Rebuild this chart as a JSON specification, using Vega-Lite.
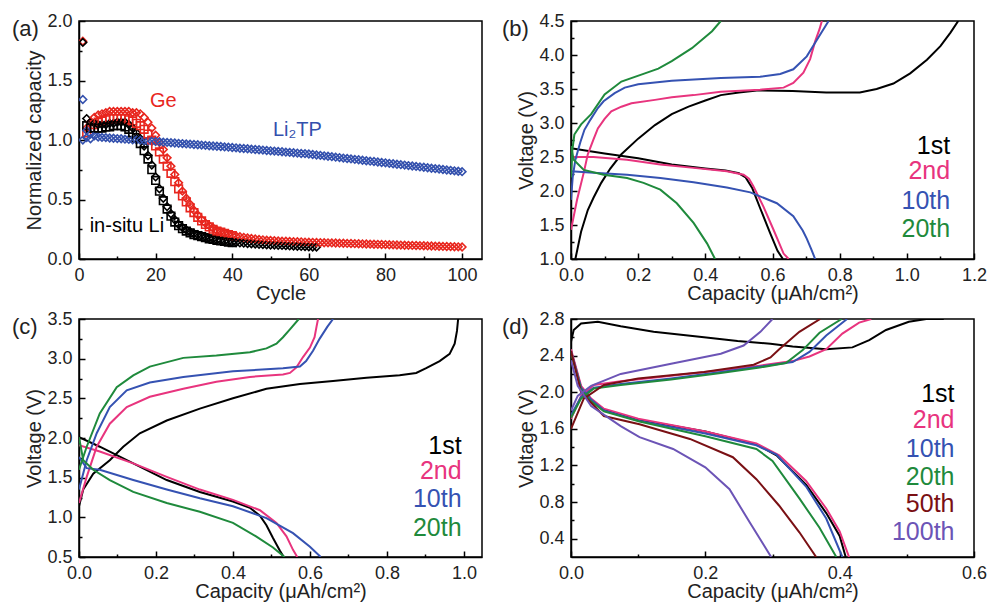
{
"$schema":"https://vega.github.io/schema/vega-lite/v6.json",
"autosize":{"type":"none"},
"padding":{"left":79,"top":21,"right":909,"bottom":587},
"background":"white",
"config":{
 "view":{"stroke":"#000","strokeWidth":1.5},
 "font":"Liberation Sans",
 "axis":{"domainColor":"#000","domainWidth":1.5,"tickColor":"#000","tickWidth":1.5,"tickSize":-6,"labelFont":"Liberation Sans","labelFontSize":18,"labelColor":"#222","titleFont":"Liberation Sans","titleFontSize":20,"titleFontWeight":"normal","titleColor":"#222","grid":false,"labelFlush":false,"labelOverlap":false},
 "axisX":{"titlePadding":-1,"labelPadding":13},
 "axisY":{"titlePadding":2,"labelPadding":13},
 "title":{"font":"Liberation Sans","fontSize":22,"fontWeight":"normal","color":"#222"},
 "text":{"font":"Liberation Sans"}
},
"columns":2,
"spacing":{"row":60,"column":89},
"bounds":"flush",
"resolve":{"scale":{"color":"independent","shape":"independent"}},
"datasets":{
"a":[
{"c":1,"g":1.83,"l":1.82,"t":1.34,"t2":1.0},
{"c":2,"g":1.10,"g2":1.06,"l":1.18,"l2":1.12,"t":1.08,"t2":1.02},
{"c":3,"g":1.15,"g2":1.10,"l":1.15,"l2":1.10,"t":1.05,"t2":1.01},
{"c":4,"g":1.19,"g2":1.13,"l":1.14,"l2":1.10,"t":1.035},
{"c":5,"g":1.21,"g2":1.15,"l":1.13,"l2":1.10,"t":1.025},
{"c":6,"g":1.22,"g2":1.16,"l":1.13,"l2":1.10,"t":1.022},
{"c":7,"g":1.23,"g2":1.17,"l":1.13,"l2":1.11,"t":1.02},
{"c":8,"g":1.24,"g2":1.18,"l":1.14,"l2":1.11,"t":1.017},
{"c":9,"g":1.24,"g2":1.18,"l":1.14,"l2":1.12,"t":1.015},
{"c":10,"g":1.24,"g2":1.18,"l":1.15,"l2":1.12,"t":1.012},
{"c":11,"g":1.24,"g2":1.18,"l":1.15,"l2":1.12,"t":1.01},
{"c":12,"g":1.24,"g2":1.18,"l":1.15,"l2":1.11,"t":1.007},
{"c":13,"g":1.24,"g2":1.17,"l":1.13,"l2":1.09,"t":1.005},
{"c":14,"g":1.23,"g2":1.16,"l":1.10,"l2":1.06,"t":1.002},
{"c":15,"g":1.23,"g2":1.14,"l":1.06,"l2":1.02,"t":1.0},
{"c":16,"g":1.22,"g2":1.12,"l":1.01,"l2":0.97,"t":0.997},
{"c":17,"g":1.19,"g2":1.09,"l":0.95,"l2":0.91,"t":0.995},
{"c":18,"g":1.15,"g2":1.05,"l":0.87,"l2":0.84,"t":0.992},
{"c":19,"g":1.10,"g2":1.00,"l":0.79,"l2":0.75,"t":0.99},
{"c":20,"g":1.04,"g2":0.95,"l":0.69,"l2":0.66,"t":0.987},
{"c":21,"g":0.98,"g2":0.90,"l":0.59,"l2":0.57,"t":0.985},
{"c":22,"g":0.92,"g2":0.84,"l":0.51,"l2":0.49,"t":0.982},
{"c":23,"g":0.85,"g2":0.78,"l":0.44,"l2":0.42,"t":0.98},
{"c":24,"g":0.78,"g2":0.72,"l":0.38,"l2":0.36,"t":0.977},
{"c":25,"g":0.71,"g2":0.65,"l":0.33,"l2":0.31,"t":0.975},
{"c":26,"g":0.64,"g2":0.59,"l":0.29,"l2":0.28,"t":0.972},
{"c":27,"g":0.57,"g2":0.53,"l":0.265,"l2":0.255,"t":0.97},
{"c":28,"g":0.51,"g2":0.48,"l":0.245,"l2":0.235,"t":0.967},
{"c":29,"g":0.46,"g2":0.43,"l":0.23,"l2":0.22,"t":0.965},
{"c":30,"g":0.41,"g2":0.39,"l":0.215,"l2":0.205,"t":0.962},
{"c":31,"g":0.37,"g2":0.35,"l":0.205,"l2":0.197,"t":0.96},
{"c":32,"g":0.33,"g2":0.32,"l":0.195,"l2":0.188,"t":0.957},
{"c":33,"g":0.30,"g2":0.29,"l":0.185,"l2":0.18,"t":0.955},
{"c":34,"g":0.28,"g2":0.27,"l":0.175,"l2":0.17,"t":0.952},
{"c":35,"g":0.26,"g2":0.25,"l":0.17,"l2":0.165,"t":0.95},
{"c":36,"g":0.24,"g2":0.235,"l":0.16,"l2":0.157,"t":0.947},
{"c":37,"g":0.23,"g2":0.225,"l":0.155,"l2":0.152,"t":0.945},
{"c":38,"g":0.22,"g2":0.215,"l":0.15,"l2":0.147,"t":0.942},
{"c":39,"g":0.21,"g2":0.205,"l":0.145,"l2":0.142,"t":0.94},
{"c":40,"g":0.20,"g2":0.196,"l":0.14,"l2":0.138,"t":0.937},
{"c":41,"g":0.193,"l":0.138,"t":0.934},
{"c":42,"g":0.187,"l":0.135,"t":0.931},
{"c":43,"g":0.182,"l":0.133,"t":0.929},
{"c":44,"g":0.177,"l":0.13,"t":0.926},
{"c":45,"g":0.172,"l":0.128,"t":0.923},
{"c":46,"g":0.168,"l":0.126,"t":0.92},
{"c":47,"g":0.164,"l":0.124,"t":0.918},
{"c":48,"g":0.161,"l":0.122,"t":0.915},
{"c":49,"g":0.158,"l":0.12,"t":0.912},
{"c":50,"g":0.156,"l":0.118,"t":0.909},
{"c":51,"g":0.154,"l":0.117,"t":0.907},
{"c":52,"g":0.152,"l":0.115,"t":0.904},
{"c":53,"g":0.15,"l":0.114,"t":0.901},
{"c":54,"g":0.149,"l":0.112,"t":0.898},
{"c":55,"g":0.148,"l":0.11,"t":0.896},
{"c":56,"g":0.146,"l":0.109,"t":0.893},
{"c":57,"g":0.145,"l":0.107,"t":0.89},
{"c":58,"g":0.144,"l":0.106,"t":0.887},
{"c":59,"g":0.142,"l":0.104,"t":0.885},
{"c":60,"g":0.141,"l":0.103,"t":0.882},
{"c":61,"g":0.14,"l":0.101,"t":0.878},
{"c":62,"g":0.139,"l":0.1,"t":0.874},
{"c":63,"g":0.138,"t":0.871},
{"c":64,"g":0.137,"t":0.867},
{"c":65,"g":0.136,"t":0.863},
{"c":66,"g":0.135,"t":0.86},
{"c":67,"g":0.134,"t":0.856},
{"c":68,"g":0.133,"t":0.852},
{"c":69,"g":0.132,"t":0.848},
{"c":70,"g":0.131,"t":0.845},
{"c":71,"g":0.13,"t":0.841},
{"c":72,"g":0.129,"t":0.837},
{"c":73,"g":0.128,"t":0.834},
{"c":74,"g":0.127,"t":0.83},
{"c":75,"g":0.126,"t":0.826},
{"c":76,"g":0.125,"t":0.822},
{"c":77,"g":0.124,"t":0.819},
{"c":78,"g":0.123,"t":0.815},
{"c":79,"g":0.122,"t":0.811},
{"c":80,"g":0.121,"t":0.808},
{"c":81,"g":0.12,"t":0.804},
{"c":82,"g":0.119,"t":0.8},
{"c":83,"g":0.118,"t":0.796},
{"c":84,"g":0.117,"t":0.793},
{"c":85,"g":0.116,"t":0.789},
{"c":86,"g":0.115,"t":0.785},
{"c":87,"g":0.114,"t":0.782},
{"c":88,"g":0.113,"t":0.778},
{"c":89,"g":0.112,"t":0.774},
{"c":90,"g":0.111,"t":0.771},
{"c":91,"g":0.11,"t":0.767},
{"c":92,"g":0.109,"t":0.763},
{"c":93,"g":0.108,"t":0.759},
{"c":94,"g":0.107,"t":0.756},
{"c":95,"g":0.106,"t":0.752},
{"c":96,"g":0.105,"t":0.748},
{"c":97,"g":0.104,"t":0.745},
{"c":98,"g":0.103,"t":0.741},
{"c":99,"g":0.102,"t":0.737},
{"c":100,"g":0.101,"t":0.734}
],
"b":[
{"s":"1st","k":"c","x":0.013,"y":1.0},{"s":"1st","k":"c","x":0.03,"y":1.4},{"s":"1st","k":"c","x":0.05,"y":1.72},{"s":"1st","k":"c","x":0.067,"y":1.9},{"s":"1st","k":"c","x":0.09,"y":2.12},{"s":"1st","k":"c","x":0.117,"y":2.33},{"s":"1st","k":"c","x":0.15,"y":2.54},{"s":"1st","k":"c","x":0.2,"y":2.77},{"s":"1st","k":"c","x":0.25,"y":2.97},{"s":"1st","k":"c","x":0.3,"y":3.13},{"s":"1st","k":"c","x":0.35,"y":3.24},{"s":"1st","k":"c","x":0.4,"y":3.33},{"s":"1st","k":"c","x":0.446,"y":3.41},{"s":"1st","k":"c","x":0.5,"y":3.45},{"s":"1st","k":"c","x":0.56,"y":3.48},{"s":"1st","k":"c","x":0.66,"y":3.47},{"s":"1st","k":"c","x":0.76,"y":3.45},{"s":"1st","k":"c","x":0.86,"y":3.45},{"s":"1st","k":"c","x":0.91,"y":3.5},{"s":"1st","k":"c","x":0.96,"y":3.58},{"s":"1st","k":"c","x":1.01,"y":3.73},{"s":"1st","k":"c","x":1.06,"y":3.93},{"s":"1st","k":"c","x":1.1,"y":4.13},{"s":"1st","k":"c","x":1.13,"y":4.33},{"s":"1st","k":"c","x":1.153,"y":4.5},
{"s":"1st","k":"d","x":0,"y":2.63},{"s":"1st","k":"d","x":0.1,"y":2.55},{"s":"1st","k":"d","x":0.2,"y":2.48},{"s":"1st","k":"d","x":0.3,"y":2.39},{"s":"1st","k":"d","x":0.4,"y":2.33},{"s":"1st","k":"d","x":0.46,"y":2.3},{"s":"1st","k":"d","x":0.5,"y":2.26},{"s":"1st","k":"d","x":0.52,"y":2.2},{"s":"1st","k":"d","x":0.54,"y":2.04},{"s":"1st","k":"d","x":0.563,"y":1.75},{"s":"1st","k":"d","x":0.593,"y":1.38},{"s":"1st","k":"d","x":0.615,"y":1.12},{"s":"1st","k":"d","x":0.631,"y":1.0},
{"s":"2nd","k":"c","x":0,"y":1.43},{"s":"2nd","k":"c","x":0.018,"y":1.87},{"s":"2nd","k":"c","x":0.038,"y":2.27},{"s":"2nd","k":"c","x":0.05,"y":2.54},{"s":"2nd","k":"c","x":0.067,"y":2.76},{"s":"2nd","k":"c","x":0.08,"y":2.92},{"s":"2nd","k":"c","x":0.1,"y":3.06},{"s":"2nd","k":"c","x":0.12,"y":3.17},{"s":"2nd","k":"c","x":0.15,"y":3.24},{"s":"2nd","k":"c","x":0.18,"y":3.29},{"s":"2nd","k":"c","x":0.25,"y":3.34},{"s":"2nd","k":"c","x":0.3,"y":3.38},{"s":"2nd","k":"c","x":0.365,"y":3.41},{"s":"2nd","k":"c","x":0.446,"y":3.46},{"s":"2nd","k":"c","x":0.563,"y":3.49},{"s":"2nd","k":"c","x":0.633,"y":3.52},{"s":"2nd","k":"c","x":0.662,"y":3.59},{"s":"2nd","k":"c","x":0.692,"y":3.74},{"s":"2nd","k":"c","x":0.712,"y":3.94},{"s":"2nd","k":"c","x":0.727,"y":4.2},{"s":"2nd","k":"c","x":0.74,"y":4.38},{"s":"2nd","k":"c","x":0.747,"y":4.5},
{"s":"2nd","k":"d","x":0,"y":2.5},{"s":"2nd","k":"d","x":0.067,"y":2.5},{"s":"2nd","k":"d","x":0.167,"y":2.46},{"s":"2nd","k":"d","x":0.266,"y":2.39},{"s":"2nd","k":"d","x":0.365,"y":2.34},{"s":"2nd","k":"d","x":0.464,"y":2.29},{"s":"2nd","k":"d","x":0.514,"y":2.24},{"s":"2nd","k":"d","x":0.53,"y":2.18},{"s":"2nd","k":"d","x":0.543,"y":2.07},{"s":"2nd","k":"d","x":0.573,"y":1.77},{"s":"2nd","k":"d","x":0.603,"y":1.43},{"s":"2nd","k":"d","x":0.633,"y":1.08},{"s":"2nd","k":"d","x":0.648,"y":1.0},
{"s":"10th","k":"c","x":0,"y":1.87},{"s":"10th","k":"c","x":0.005,"y":2.2},{"s":"10th","k":"c","x":0.013,"y":2.46},{"s":"10th","k":"c","x":0.028,"y":2.72},{"s":"10th","k":"c","x":0.04,"y":2.9},{"s":"10th","k":"c","x":0.058,"y":3.05},{"s":"10th","k":"c","x":0.08,"y":3.22},{"s":"10th","k":"c","x":0.097,"y":3.32},{"s":"10th","k":"c","x":0.13,"y":3.44},{"s":"10th","k":"c","x":0.16,"y":3.52},{"s":"10th","k":"c","x":0.2,"y":3.57},{"s":"10th","k":"c","x":0.3,"y":3.62},{"s":"10th","k":"c","x":0.446,"y":3.66},{"s":"10th","k":"c","x":0.563,"y":3.68},{"s":"10th","k":"c","x":0.623,"y":3.72},{"s":"10th","k":"c","x":0.662,"y":3.79},{"s":"10th","k":"c","x":0.702,"y":3.98},{"s":"10th","k":"c","x":0.732,"y":4.22},{"s":"10th","k":"c","x":0.767,"y":4.5},
{"s":"10th","k":"d","x":0,"y":2.29},{"s":"10th","k":"d","x":0.067,"y":2.27},{"s":"10th","k":"d","x":0.167,"y":2.24},{"s":"10th","k":"d","x":0.266,"y":2.19},{"s":"10th","k":"d","x":0.365,"y":2.13},{"s":"10th","k":"d","x":0.464,"y":2.05},{"s":"10th","k":"d","x":0.534,"y":1.98},{"s":"10th","k":"d","x":0.613,"y":1.82},{"s":"10th","k":"d","x":0.662,"y":1.63},{"s":"10th","k":"d","x":0.69,"y":1.42},{"s":"10th","k":"d","x":0.702,"y":1.3},{"s":"10th","k":"d","x":0.715,"y":1.15},{"s":"10th","k":"d","x":0.727,"y":1.0},
{"s":"20th","k":"c","x":0,"y":2.2},{"s":"20th","k":"c","x":0.004,"y":2.6},{"s":"20th","k":"c","x":0.01,"y":2.83},{"s":"20th","k":"c","x":0.03,"y":2.98},{"s":"20th","k":"c","x":0.06,"y":3.13},{"s":"20th","k":"c","x":0.1,"y":3.42},{"s":"20th","k":"c","x":0.15,"y":3.61},{"s":"20th","k":"c","x":0.22,"y":3.73},{"s":"20th","k":"c","x":0.26,"y":3.8},{"s":"20th","k":"c","x":0.3,"y":3.91},{"s":"20th","k":"c","x":0.36,"y":4.1},{"s":"20th","k":"c","x":0.42,"y":4.35},{"s":"20th","k":"c","x":0.446,"y":4.5},
{"s":"20th","k":"d","x":0,"y":2.66},{"s":"20th","k":"d","x":0.008,"y":2.46},{"s":"20th","k":"d","x":0.038,"y":2.31},{"s":"20th","k":"d","x":0.097,"y":2.24},{"s":"20th","k":"d","x":0.167,"y":2.19},{"s":"20th","k":"d","x":0.216,"y":2.12},{"s":"20th","k":"d","x":0.266,"y":2.02},{"s":"20th","k":"d","x":0.315,"y":1.82},{"s":"20th","k":"d","x":0.365,"y":1.53},{"s":"20th","k":"d","x":0.405,"y":1.23},{"s":"20th","k":"d","x":0.429,"y":1.0}
],
"c":[
{"s":"1st","k":"c","x":0,"y":1.14},{"s":"1st","k":"c","x":0.011,"y":1.35},{"s":"1st","k":"c","x":0.037,"y":1.55},{"s":"1st","k":"c","x":0.08,"y":1.72},{"s":"1st","k":"c","x":0.115,"y":1.89},{"s":"1st","k":"c","x":0.158,"y":2.06},{"s":"1st","k":"c","x":0.228,"y":2.22},{"s":"1st","k":"c","x":0.314,"y":2.37},{"s":"1st","k":"c","x":0.4,"y":2.5},{"s":"1st","k":"c","x":0.487,"y":2.62},{"s":"1st","k":"c","x":0.574,"y":2.68},{"s":"1st","k":"c","x":0.66,"y":2.72},{"s":"1st","k":"c","x":0.747,"y":2.76},{"s":"1st","k":"c","x":0.833,"y":2.79},{"s":"1st","k":"c","x":0.876,"y":2.82},{"s":"1st","k":"c","x":0.902,"y":2.88},{"s":"1st","k":"c","x":0.937,"y":2.97},{"s":"1st","k":"c","x":0.963,"y":3.06},{"s":"1st","k":"c","x":0.976,"y":3.19},{"s":"1st","k":"c","x":0.982,"y":3.35},{"s":"1st","k":"c","x":0.985,"y":3.5},
{"s":"1st","k":"d","x":0,"y":2.01},{"s":"1st","k":"d","x":0.054,"y":1.89},{"s":"1st","k":"d","x":0.141,"y":1.68},{"s":"1st","k":"d","x":0.228,"y":1.47},{"s":"1st","k":"d","x":0.314,"y":1.32},{"s":"1st","k":"d","x":0.4,"y":1.2},{"s":"1st","k":"d","x":0.444,"y":1.12},{"s":"1st","k":"d","x":0.47,"y":1.02},{"s":"1st","k":"d","x":0.487,"y":0.9},{"s":"1st","k":"d","x":0.504,"y":0.74},{"s":"1st","k":"d","x":0.522,"y":0.58},{"s":"1st","k":"d","x":0.532,"y":0.5},
{"s":"2nd","k":"c","x":0,"y":1.18},{"s":"2nd","k":"c","x":0.02,"y":1.51},{"s":"2nd","k":"c","x":0.046,"y":1.89},{"s":"2nd","k":"c","x":0.08,"y":2.18},{"s":"2nd","k":"c","x":0.124,"y":2.39},{"s":"2nd","k":"c","x":0.184,"y":2.52},{"s":"2nd","k":"c","x":0.271,"y":2.62},{"s":"2nd","k":"c","x":0.357,"y":2.71},{"s":"2nd","k":"c","x":0.444,"y":2.77},{"s":"2nd","k":"c","x":0.53,"y":2.8},{"s":"2nd","k":"c","x":0.548,"y":2.82},{"s":"2nd","k":"c","x":0.565,"y":2.89},{"s":"2nd","k":"c","x":0.582,"y":3.02},{"s":"2nd","k":"c","x":0.6,"y":3.14},{"s":"2nd","k":"c","x":0.612,"y":3.27},{"s":"2nd","k":"c","x":0.617,"y":3.4},{"s":"2nd","k":"c","x":0.621,"y":3.5},
{"s":"2nd","k":"d","x":0,"y":1.91},{"s":"2nd","k":"d","x":0.054,"y":1.83},{"s":"2nd","k":"d","x":0.141,"y":1.68},{"s":"2nd","k":"d","x":0.228,"y":1.51},{"s":"2nd","k":"d","x":0.314,"y":1.35},{"s":"2nd","k":"d","x":0.4,"y":1.22},{"s":"2nd","k":"d","x":0.47,"y":1.09},{"s":"2nd","k":"d","x":0.513,"y":0.93},{"s":"2nd","k":"d","x":0.539,"y":0.76},{"s":"2nd","k":"d","x":0.556,"y":0.59},{"s":"2nd","k":"d","x":0.567,"y":0.5},
{"s":"10th","k":"c","x":0,"y":1.35},{"s":"10th","k":"c","x":0.02,"y":1.72},{"s":"10th","k":"c","x":0.046,"y":2.06},{"s":"10th","k":"c","x":0.08,"y":2.39},{"s":"10th","k":"c","x":0.124,"y":2.6},{"s":"10th","k":"c","x":0.184,"y":2.7},{"s":"10th","k":"c","x":0.271,"y":2.77},{"s":"10th","k":"c","x":0.4,"y":2.84},{"s":"10th","k":"c","x":0.53,"y":2.88},{"s":"10th","k":"c","x":0.574,"y":2.9},{"s":"10th","k":"c","x":0.59,"y":2.97},{"s":"10th","k":"c","x":0.608,"y":3.1},{"s":"10th","k":"c","x":0.625,"y":3.25},{"s":"10th","k":"c","x":0.645,"y":3.4},{"s":"10th","k":"c","x":0.66,"y":3.5},
{"s":"10th","k":"d","x":0,"y":1.76},{"s":"10th","k":"d","x":0.02,"y":1.62},{"s":"10th","k":"d","x":0.054,"y":1.6},{"s":"10th","k":"d","x":0.141,"y":1.47},{"s":"10th","k":"d","x":0.228,"y":1.35},{"s":"10th","k":"d","x":0.314,"y":1.24},{"s":"10th","k":"d","x":0.4,"y":1.14},{"s":"10th","k":"d","x":0.487,"y":0.99},{"s":"10th","k":"d","x":0.556,"y":0.8},{"s":"10th","k":"d","x":0.6,"y":0.63},{"s":"10th","k":"d","x":0.628,"y":0.5},
{"s":"20th","k":"c","x":0,"y":1.6},{"s":"20th","k":"c","x":0.02,"y":1.89},{"s":"20th","k":"c","x":0.054,"y":2.31},{"s":"20th","k":"c","x":0.098,"y":2.64},{"s":"20th","k":"c","x":0.141,"y":2.79},{"s":"20th","k":"c","x":0.184,"y":2.9},{"s":"20th","k":"c","x":0.271,"y":3.01},{"s":"20th","k":"c","x":0.357,"y":3.04},{"s":"20th","k":"c","x":0.444,"y":3.08},{"s":"20th","k":"c","x":0.487,"y":3.13},{"s":"20th","k":"c","x":0.513,"y":3.19},{"s":"20th","k":"c","x":0.53,"y":3.27},{"s":"20th","k":"c","x":0.548,"y":3.37},{"s":"20th","k":"c","x":0.571,"y":3.5},
{"s":"20th","k":"d","x":0,"y":2.01},{"s":"20th","k":"d","x":0.011,"y":1.72},{"s":"20th","k":"d","x":0.037,"y":1.6},{"s":"20th","k":"d","x":0.08,"y":1.47},{"s":"20th","k":"d","x":0.141,"y":1.32},{"s":"20th","k":"d","x":0.228,"y":1.18},{"s":"20th","k":"d","x":0.314,"y":1.07},{"s":"20th","k":"d","x":0.4,"y":0.93},{"s":"20th","k":"d","x":0.46,"y":0.76},{"s":"20th","k":"d","x":0.504,"y":0.62},{"s":"20th","k":"d","x":0.534,"y":0.5}
],
"d":[
{"s":"1st","k":"c","x":0,"y":2.55},{"s":"1st","k":"c","x":0.004,"y":2.68},{"s":"1st","k":"c","x":0.015,"y":2.75},{"s":"1st","k":"c","x":0.04,"y":2.77},{"s":"1st","k":"c","x":0.074,"y":2.72},{"s":"1st","k":"c","x":0.123,"y":2.66},{"s":"1st","k":"c","x":0.198,"y":2.6},{"s":"1st","k":"c","x":0.248,"y":2.56},{"s":"1st","k":"c","x":0.297,"y":2.53},{"s":"1st","k":"c","x":0.33,"y":2.5},{"s":"1st","k":"c","x":0.38,"y":2.47},{"s":"1st","k":"c","x":0.419,"y":2.49},{"s":"1st","k":"c","x":0.444,"y":2.57},{"s":"1st","k":"c","x":0.469,"y":2.68},{"s":"1st","k":"c","x":0.503,"y":2.77},{"s":"1st","k":"c","x":0.529,"y":2.8},{"s":"1st","k":"c","x":0.555,"y":2.8},
{"s":"1st","k":"d","x":0,"y":2.45},{"s":"1st","k":"d","x":0.015,"y":2.05},{"s":"1st","k":"d","x":0.03,"y":1.92},{"s":"1st","k":"d","x":0.049,"y":1.81},{"s":"1st","k":"d","x":0.1,"y":1.7},{"s":"1st","k":"d","x":0.2,"y":1.57},{"s":"1st","k":"d","x":0.276,"y":1.43},{"s":"1st","k":"d","x":0.306,"y":1.31},{"s":"1st","k":"d","x":0.35,"y":0.99},{"s":"1st","k":"d","x":0.38,"y":0.68},{"s":"1st","k":"d","x":0.4,"y":0.43},{"s":"1st","k":"d","x":0.409,"y":0.2},
{"s":"2nd","k":"c","x":0,"y":1.71},{"s":"2nd","k":"c","x":0.015,"y":1.96},{"s":"2nd","k":"c","x":0.034,"y":2.08},{"s":"2nd","k":"c","x":0.074,"y":2.12},{"s":"2nd","k":"c","x":0.149,"y":2.18},{"s":"2nd","k":"c","x":0.223,"y":2.24},{"s":"2nd","k":"c","x":0.281,"y":2.29},{"s":"2nd","k":"c","x":0.33,"y":2.34},{"s":"2nd","k":"c","x":0.355,"y":2.39},{"s":"2nd","k":"c","x":0.38,"y":2.47},{"s":"2nd","k":"c","x":0.404,"y":2.64},{"s":"2nd","k":"c","x":0.429,"y":2.76},{"s":"2nd","k":"c","x":0.447,"y":2.8},
{"s":"2nd","k":"d","x":0,"y":2.47},{"s":"2nd","k":"d","x":0.015,"y":2.07},{"s":"2nd","k":"d","x":0.03,"y":1.93},{"s":"2nd","k":"d","x":0.049,"y":1.82},{"s":"2nd","k":"d","x":0.1,"y":1.71},{"s":"2nd","k":"d","x":0.2,"y":1.57},{"s":"2nd","k":"d","x":0.276,"y":1.44},{"s":"2nd","k":"d","x":0.31,"y":1.31},{"s":"2nd","k":"d","x":0.35,"y":1.03},{"s":"2nd","k":"d","x":0.38,"y":0.73},{"s":"2nd","k":"d","x":0.4,"y":0.48},{"s":"2nd","k":"d","x":0.414,"y":0.2},
{"s":"10th","k":"c","x":0,"y":1.75},{"s":"10th","k":"c","x":0.015,"y":1.95},{"s":"10th","k":"c","x":0.034,"y":2.05},{"s":"10th","k":"c","x":0.074,"y":2.09},{"s":"10th","k":"c","x":0.149,"y":2.15},{"s":"10th","k":"c","x":0.223,"y":2.22},{"s":"10th","k":"c","x":0.281,"y":2.28},{"s":"10th","k":"c","x":0.33,"y":2.33},{"s":"10th","k":"c","x":0.355,"y":2.44},{"s":"10th","k":"c","x":0.38,"y":2.62},{"s":"10th","k":"c","x":0.411,"y":2.8},
{"s":"10th","k":"d","x":0,"y":2.45},{"s":"10th","k":"d","x":0.015,"y":2.05},{"s":"10th","k":"d","x":0.03,"y":1.92},{"s":"10th","k":"d","x":0.049,"y":1.8},{"s":"10th","k":"d","x":0.1,"y":1.69},{"s":"10th","k":"d","x":0.2,"y":1.55},{"s":"10th","k":"d","x":0.276,"y":1.42},{"s":"10th","k":"d","x":0.306,"y":1.32},{"s":"10th","k":"d","x":0.35,"y":0.97},{"s":"10th","k":"d","x":0.38,"y":0.62},{"s":"10th","k":"d","x":0.404,"y":0.2},
{"s":"20th","k":"c","x":0,"y":1.72},{"s":"20th","k":"c","x":0.015,"y":1.93},{"s":"20th","k":"c","x":0.034,"y":2.04},{"s":"20th","k":"c","x":0.074,"y":2.08},{"s":"20th","k":"c","x":0.149,"y":2.14},{"s":"20th","k":"c","x":0.223,"y":2.21},{"s":"20th","k":"c","x":0.281,"y":2.27},{"s":"20th","k":"c","x":0.32,"y":2.32},{"s":"20th","k":"c","x":0.345,"y":2.46},{"s":"20th","k":"c","x":0.37,"y":2.65},{"s":"20th","k":"c","x":0.403,"y":2.8},
{"s":"20th","k":"d","x":0,"y":2.43},{"s":"20th","k":"d","x":0.015,"y":2.03},{"s":"20th","k":"d","x":0.03,"y":1.9},{"s":"20th","k":"d","x":0.049,"y":1.79},{"s":"20th","k":"d","x":0.102,"y":1.68},{"s":"20th","k":"d","x":0.2,"y":1.52},{"s":"20th","k":"d","x":0.276,"y":1.38},{"s":"20th","k":"d","x":0.3,"y":1.25},{"s":"20th","k":"d","x":0.34,"y":0.84},{"s":"20th","k":"d","x":0.37,"y":0.52},{"s":"20th","k":"d","x":0.395,"y":0.2},
{"s":"50th","k":"c","x":0,"y":1.6},{"s":"50th","k":"c","x":0.019,"y":1.93},{"s":"50th","k":"c","x":0.049,"y":2.08},{"s":"50th","k":"c","x":0.1,"y":2.15},{"s":"50th","k":"c","x":0.198,"y":2.22},{"s":"50th","k":"c","x":0.272,"y":2.3},{"s":"50th","k":"c","x":0.297,"y":2.38},{"s":"50th","k":"c","x":0.31,"y":2.47},{"s":"50th","k":"c","x":0.34,"y":2.66},{"s":"50th","k":"c","x":0.371,"y":2.8},
{"s":"50th","k":"d","x":0,"y":2.45},{"s":"50th","k":"d","x":0.015,"y":2.0},{"s":"50th","k":"d","x":0.049,"y":1.74},{"s":"50th","k":"d","x":0.102,"y":1.65},{"s":"50th","k":"d","x":0.177,"y":1.49},{"s":"50th","k":"d","x":0.241,"y":1.29},{"s":"50th","k":"d","x":0.276,"y":1.05},{"s":"50th","k":"d","x":0.31,"y":0.76},{"s":"50th","k":"d","x":0.34,"y":0.47},{"s":"50th","k":"d","x":0.365,"y":0.2},
{"s":"100th","k":"c","x":0,"y":1.8},{"s":"100th","k":"c","x":0.01,"y":1.96},{"s":"100th","k":"c","x":0.03,"y":2.07},{"s":"100th","k":"c","x":0.074,"y":2.2},{"s":"100th","k":"c","x":0.149,"y":2.31},{"s":"100th","k":"c","x":0.223,"y":2.42},{"s":"100th","k":"c","x":0.257,"y":2.51},{"s":"100th","k":"c","x":0.282,"y":2.66},{"s":"100th","k":"c","x":0.3,"y":2.8},
{"s":"100th","k":"d","x":0,"y":2.35},{"s":"100th","k":"d","x":0.01,"y":2.07},{"s":"100th","k":"d","x":0.03,"y":1.85},{"s":"100th","k":"d","x":0.074,"y":1.63},{"s":"100th","k":"d","x":0.102,"y":1.51},{"s":"100th","k":"d","x":0.152,"y":1.38},{"s":"100th","k":"d","x":0.2,"y":1.18},{"s":"100th","k":"d","x":0.236,"y":0.94},{"s":"100th","k":"d","x":0.266,"y":0.58},{"s":"100th","k":"d","x":0.298,"y":0.2}
]
},
"concat":[
{
 "width":403,"height":238,
 "title":{"text":"(a)","anchor":"start","frame":"group","dx":-67,"dy":29,"offset":0},
 "resolve":{"axis":{"x":"independent","y":"independent"}},
 "layer":[
  {"data":{"name":"a"},
   "transform":[{"fold":["g","g2","l","l2","t","t2"],"as":["k","val"]},{"filter":"isValid(datum.val)"}],
   "mark":{"type":"point","filled":false,"strokeWidth":1.6,"size":58,"opacity":1,"clip":true},
   "encoding":{
    "x":{"field":"c","type":"quantitative","scale":{"domain":[0,105.2],"nice":false,"zero":false},
      "axis":{"title":"Cycle","values":[0,20,40,60,80,100],"format":"d"}},
    "y":{"field":"val","type":"quantitative","scale":{"domain":[0,2],"nice":false},
      "axis":{"title":"Normalized capacity","values":[0,0.5,1,1.5,2],"format":".1f"}},
    "color":{"field":"k","type":"nominal","scale":{"domain":["g","g2","l","l2","t","t2"],"range":["#e8261e","#e8261e","#000000","#000000","#3350ad","#3350ad"]},"legend":null},
    "shape":{"field":"k","type":"nominal","scale":{"domain":["g","g2","l","l2","t","t2"],"range":["diamond","square","diamond","square","diamond","diamond"]},"legend":null}
   }},
  {"data":{"values":[{"txt":"Ge","k":"g","x":22,"y":1.275},{"txt":"Li₂TP","k":"t","x":57,"y":1.03},{"txt":"in-situ Li","k":"l","x":12.5,"y":0.23}]},
   "mark":{"type":"text","align":"center","baseline":"alphabetic","fontSize":20},
   "encoding":{
    "x":{"field":"x","type":"quantitative","axis":{"orient":"bottom","values":[10,30,50,70,90],"labels":false,"title":null,"domain":false,"tickSize":-3}},
    "y":{"field":"y","type":"quantitative","axis":{"orient":"left","values":[0.25,0.75,1.25,1.75],"labels":false,"title":null,"domain":false,"tickSize":-3}},
    "text":{"field":"txt"},
    "color":{"field":"k","type":"nominal","legend":null}
   }}
 ]
},
{
 "width":403,"height":238,
 "title":{"text":"(b)","anchor":"start","frame":"group","dx":-69,"dy":29,"offset":0},
 "resolve":{"axis":{"x":"independent","y":"independent"}},
 "layer":[
  {"data":{"name":"b"},
   "mark":{"type":"line","strokeWidth":2,"clip":true},
   "encoding":{
    "x":{"field":"x","type":"quantitative","scale":{"domain":[0,1.2],"nice":false},
      "axis":{"title":"Capacity (μAh/cm²)","values":[0,0.2,0.4,0.6,0.8,1.0,1.2],"format":".1f"}},
    "y":{"field":"y","type":"quantitative","scale":{"domain":[1,4.5],"nice":false,"zero":false},
      "axis":{"title":"Voltage (V)","values":[1,1.5,2,2.5,3,3.5,4,4.5],"format":".1f"}},
    "color":{"field":"s","type":"nominal","scale":{"domain":["1st","2nd","10th","20th","50th","100th"],"range":["#000000","#e8347e","#3552b2","#1f8a3c","#7a1014","#6c54b6"]},"legend":null},
    "detail":{"field":"k"}
   }},
  {"data":{"values":[{"s":"1st","x":1.129,"y":2.55},{"s":"2nd","x":1.129,"y":2.17},{"s":"10th","x":1.129,"y":1.74},{"s":"20th","x":1.129,"y":1.33}]},
   "mark":{"type":"text","align":"right","baseline":"alphabetic","fontSize":25},
   "encoding":{
    "x":{"field":"x","type":"quantitative","axis":{"orient":"bottom","values":[0.1,0.3,0.5,0.7,0.9,1.1],"labels":false,"title":null,"domain":false,"tickSize":-3}},
    "y":{"field":"y","type":"quantitative","axis":{"orient":"left","values":[1.25,1.75,2.25,2.75,3.25,3.75,4.25],"labels":false,"title":null,"domain":false,"tickSize":-3}},
    "text":{"field":"s"},
    "color":{"field":"s","type":"nominal","legend":null}
   }}
 ]
},
{
 "width":403,"height":238,
 "title":{"text":"(c)","anchor":"start","frame":"group","dx":-67,"dy":29,"offset":0},
 "resolve":{"axis":{"x":"independent","y":"independent"}},
 "layer":[
  {"data":{"name":"c"},
   "mark":{"type":"line","strokeWidth":2,"clip":true},
   "encoding":{
    "x":{"field":"x","type":"quantitative","scale":{"domain":[0,1.047],"nice":false},
      "axis":{"title":"Capacity (μAh/cm²)","values":[0,0.2,0.4,0.6,0.8,1.0],"format":".1f"}},
    "y":{"field":"y","type":"quantitative","scale":{"domain":[0.5,3.5],"nice":false,"zero":false},
      "axis":{"title":"Voltage (V)","values":[0.5,1,1.5,2,2.5,3,3.5],"format":".1f"}},
    "color":{"field":"s","type":"nominal","scale":{"domain":["1st","2nd","10th","20th","50th","100th"],"range":["#000000","#e8347e","#3552b2","#1f8a3c","#7a1014","#6c54b6"]},"legend":null},
    "detail":{"field":"k"}
   }},
  {"data":{"values":[{"s":"1st","x":0.994,"y":1.8},{"s":"2nd","x":0.994,"y":1.48},{"s":"10th","x":0.994,"y":1.13},{"s":"20th","x":0.994,"y":0.77}]},
   "mark":{"type":"text","align":"right","baseline":"alphabetic","fontSize":25},
   "encoding":{
    "x":{"field":"x","type":"quantitative","axis":{"orient":"bottom","values":[0.1,0.3,0.5,0.7,0.9],"labels":false,"title":null,"domain":false,"tickSize":-3}},
    "y":{"field":"y","type":"quantitative","axis":{"orient":"left","values":[0.75,1.25,1.75,2.25,2.75,3.25],"labels":false,"title":null,"domain":false,"tickSize":-3}},
    "text":{"field":"s"},
    "color":{"field":"s","type":"nominal","legend":null}
   }}
 ]
},
{
 "width":403,"height":238,
 "title":{"text":"(d)","anchor":"start","frame":"group","dx":-69,"dy":29,"offset":0},
 "resolve":{"axis":{"x":"independent","y":"independent"}},
 "layer":[
  {"data":{"name":"d"},
   "mark":{"type":"line","strokeWidth":2,"clip":true},
   "encoding":{
    "x":{"field":"x","type":"quantitative","scale":{"domain":[0,0.6],"nice":false},
      "axis":{"title":"Capacity (μAh/cm²)","values":[0,0.2,0.4,0.6],"format":".1f"}},
    "y":{"field":"y","type":"quantitative","scale":{"domain":[0.2,2.8],"nice":false,"zero":false},
      "axis":{"title":"Voltage (V)","values":[0.4,0.8,1.2,1.6,2.0,2.4,2.8],"format":".1f"}},
    "color":{"field":"s","type":"nominal","scale":{"domain":["1st","2nd","10th","20th","50th","100th"],"range":["#000000","#e8347e","#3552b2","#1f8a3c","#7a1014","#6c54b6"]},"legend":null},
    "detail":{"field":"k"}
   }},
  {"data":{"values":[{"s":"1st","x":0.571,"y":1.89},{"s":"2nd","x":0.571,"y":1.61},{"s":"10th","x":0.571,"y":1.29},{"s":"20th","x":0.571,"y":0.99},{"s":"50th","x":0.571,"y":0.69},{"s":"100th","x":0.571,"y":0.39}]},
   "mark":{"type":"text","align":"right","baseline":"alphabetic","fontSize":25},
   "encoding":{
    "x":{"field":"x","type":"quantitative","axis":{"orient":"bottom","values":[0.1,0.3,0.5],"labels":false,"title":null,"domain":false,"tickSize":-3}},
    "y":{"field":"y","type":"quantitative","axis":{"orient":"left","values":[0.6,1.0,1.4,1.8,2.2,2.6],"labels":false,"title":null,"domain":false,"tickSize":-3}},
    "text":{"field":"s"},
    "color":{"field":"s","type":"nominal","legend":null}
   }}
 ]
}
]
}
